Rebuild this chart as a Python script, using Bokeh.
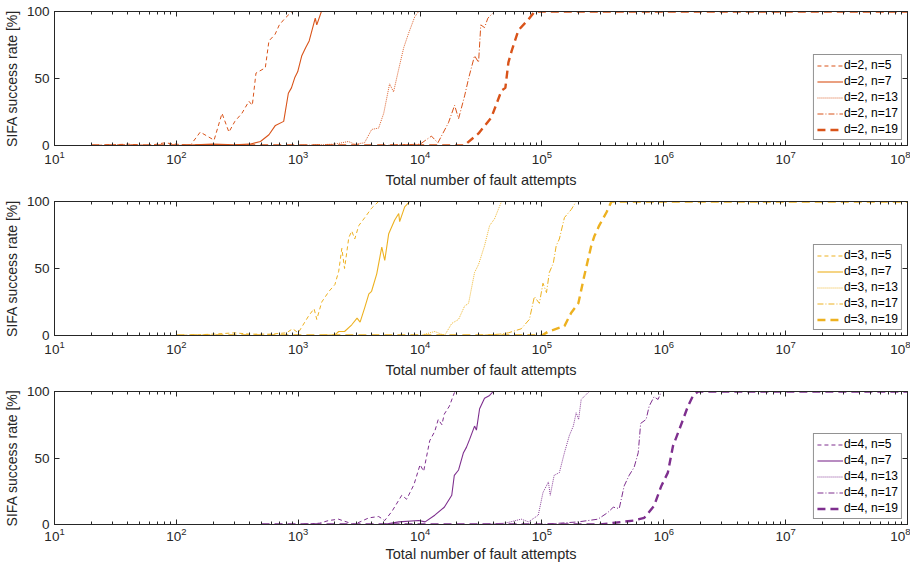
from bokeh.plotting import figure
from bokeh.models import LogAxis, LinearAxis, Legend, LegendItem, FixedTicker, LogTickFormatter, CustomJSTickFormatter
from bokeh.layouts import column
from bokeh.embed import file_html
from bokeh.resources import INLINE

# ---------------- data ----------------
decade_ticks = [1e1, 1e2, 1e3, 1e4, 1e5, 1e6, 1e7, 1e8]
y_ticks = [0, 50, 100]
series_n = [5, 7, 13, 17, 19]
panel_d = [2, 3, 4]

# d = 2
x_d2_n5 = [20, 40, 60, 80, 100, 130, 157, 204, 237, 270, 302, 345, 394, 420, 450, 537, 575, 646, 700, 780, 890, 1e8]
y_d2_n5 = [0, 1, 0, 2, 1, 0, 10, 4, 24, 10, 18, 24, 33, 30, 54, 58, 78, 83, 90, 95, 100, 100]
x_d2_n7 = [20, 100, 200, 300, 400, 490, 575, 650, 760, 830, 880, 940, 990, 1070, 1150, 1230, 1380, 1420, 1550, 1e8]
y_d2_n7 = [0, 0, 1, 0.5, 1, 3, 8, 15, 18, 39, 43, 51, 55, 67, 73, 78, 95, 90, 100, 100]
x_d2_n13 = [20, 1000, 2000, 2580, 2900, 3500, 4010, 4570, 5030, 5620, 6060, 6680, 7340, 8070, 9040, 9730, 1e8]
y_d2_n13 = [0, 0, 1, 3, 1, 2, 12, 13, 24, 46, 40, 57, 73, 84, 96, 100, 100]
x_d2_n17 = [20, 5000, 10000, 12400, 14000, 17100, 19200, 20700, 23200, 25000, 28000, 30200, 31500, 33800, 36000, 40800, 1e8]
y_d2_n17 = [0, 0, 1, 7, 2, 17, 30, 20, 37, 50, 67, 62, 90, 88, 95, 100, 100]
x_d2_n19 = [20, 20000, 23000, 30200, 38500, 46600, 50100, 53100, 56200, 64100, 77400, 87100, 1e8]
y_d2_n19 = [0, 0, 0, 9, 21, 41, 43, 62, 70, 86, 94, 100, 100]

# d = 3
x_d3_n5 = [100, 200, 300, 400, 600, 800, 900, 1000, 1225, 1350, 1420, 1560, 1790, 2000, 2150, 2280, 2400, 2600, 2750, 2910, 3140, 3520, 4000, 4570, 1e8]
y_d3_n5 = [0, 1, 2, 1, 1, 2, 5, 2, 15, 20, 12, 25, 33, 38, 48, 65, 50, 73, 78, 72, 82, 88, 95, 100, 100]
x_d3_n7 = [100, 1500, 2000, 2150, 2400, 2750, 3040, 3220, 3520, 3800, 4000, 4410, 4850, 5130, 5530, 6180, 6680, 6800, 7480, 8220, 1e8]
y_d3_n7 = [0, 0, 0.5, 3, 3, 8, 13, 10, 21, 31, 33, 46, 66, 56, 76, 86, 91, 85, 96, 100, 100]
x_d3_n13 = [100, 5000, 10000, 13200, 15900, 18200, 20700, 23200, 25000, 28000, 30200, 33800, 37200, 40800, 46600, 1e8]
y_d3_n13 = [0, 0, 0, 3, 0, 9, 12, 22, 24, 47, 53, 67, 82, 87, 100, 100]
x_d3_n17 = [100, 30000, 45000, 53100, 67600, 78900, 86700, 95300, 102000, 109000, 115000, 124000, 131000, 139000, 153000, 174000, 191000, 1e8]
y_d3_n17 = [0, 0, 1, 2, 5, 12, 29, 24, 39, 32, 47, 54, 67, 72, 88, 94, 100, 100]
x_d3_n19 = [100, 100000, 113000, 153000, 174000, 199000, 222000, 254000, 269000, 295000, 339000, 372000, 1e8]
y_d3_n19 = [0, 0, 3, 7, 17, 24, 44, 67, 74, 82, 92, 100, 100]

# d = 4
x_d4_n5 = [500, 1000, 1500, 1780, 2140, 2880, 3800, 4570, 5130, 5890, 7080, 7760, 8910, 10000, 10700, 12000, 13200, 14100, 15100, 15800, 17400, 19100, 20400, 1e8]
y_d4_n5 = [0, 0, 1, 3, 4, 0, 5, 6, 3, 10, 22, 19, 30, 45, 40, 63, 70, 79, 75, 83, 89, 99, 100, 100]
x_d4_n7 = [500, 5000, 6680, 9770, 11000, 13200, 15800, 18200, 19100, 20700, 22700, 24000, 25500, 28000, 29000, 30800, 33800, 37200, 39800, 1e8]
y_d4_n7 = [0, 0, 2, 3, 2, 7, 13, 22, 37, 41, 54, 58, 64, 74, 71, 87, 95, 97, 100, 100]
x_d4_n13 = [500, 30000, 50000, 67600, 77600, 93300, 102000, 113000, 117000, 126000, 139000, 153000, 168000, 181000, 191000, 200000, 210000, 244000, 1e8]
y_d4_n13 = [0, 0, 1, 4, 2, 7, 24, 32, 22, 37, 39, 54, 67, 74, 84, 79, 94, 100, 100]
x_d4_n17 = [500, 100000, 200000, 288000, 347000, 385000, 431000, 473000, 520000, 571000, 617000, 646000, 716000, 759000, 832000, 897000, 955000, 1e8]
y_d4_n17 = [0, 0, 2, 4, 9, 13, 12, 29, 37, 43, 54, 76, 79, 89, 96, 94, 100, 100]
x_d4_n19 = [500, 300000, 571000, 692000, 832000, 955000, 1080000, 1190000, 1310000, 1440000, 1580000, 1740000, 1910000, 1e8]
y_d4_n19 = [0, 0, 3, 5, 14, 29, 39, 59, 69, 79, 89, 97, 100, 100]

data = {
    2: [(x_d2_n5, y_d2_n5), (x_d2_n7, y_d2_n7), (x_d2_n13, y_d2_n13), (x_d2_n17, y_d2_n17), (x_d2_n19, y_d2_n19)],
    3: [(x_d3_n5, y_d3_n5), (x_d3_n7, y_d3_n7), (x_d3_n13, y_d3_n13), (x_d3_n17, y_d3_n17), (x_d3_n19, y_d3_n19)],
    4: [(x_d4_n5, y_d4_n5), (x_d4_n7, y_d4_n7), (x_d4_n13, y_d4_n13), (x_d4_n17, y_d4_n17), (x_d4_n19, y_d4_n19)],
}

# ---------------- style ----------------
FONT = "Liberation Sans"
AX = "#262626"
colors = {2: "#D95319", 3: "#EDB120", 4: "#7E2F8E"}
styles = [  # (dash, width, alpha)
    ("4 3", 1.0, 1.0),
    ("solid", 1.1, 1.0),
    ("1 1", 1.0, 0.9),
    ("6 2 1 2", 1.0, 1.0),
    ("8 5", 2.4, 1.0),
]
minor = [m * 10 ** k for k in range(1, 8) for m in range(2, 10)]


def style_axis(ax):
    ax.axis_line_color = AX
    ax.major_tick_line_color = AX
    ax.minor_tick_line_color = AX
    ax.major_tick_in = 5
    ax.major_tick_out = 0
    ax.minor_tick_in = 3
    ax.minor_tick_out = 0
    ax.major_label_text_font = FONT
    ax.major_label_text_color = AX
    ax.major_label_text_font_size = "13.5px"
    ax.axis_label_text_font = FONT
    ax.axis_label_text_font_style = "normal"
    ax.axis_label_text_color = AX
    ax.axis_label_text_font_size = "14.5px"


def hide_labels(ax):
    ax.formatter = CustomJSTickFormatter(code="return '';")
    ax.major_label_text_font_size = "1px"
    ax.major_label_text_alpha = 0
    ax.major_label_standoff = 0


def make_panel(d, height, bottom, lab_standoff, title_standoff):
    p = figure(width=910, height=height, x_axis_type="log", x_range=(10, 1e8), y_range=(0, 100),
               output_backend="svg", toolbar_location=None,
               min_border_left=52, min_border_right=3, min_border_top=11, min_border_bottom=bottom)
    p.grid.visible = False
    p.outline_line_color = AX
    p.background_fill_color = "white"
    p.border_fill_color = "white"

    xa = p.xaxis[0]
    xa.ticker = FixedTicker(ticks=decade_ticks, minor_ticks=minor)
    xa.formatter = LogTickFormatter()
    xa.axis_label = "Total number of fault attempts"
    style_axis(xa)
    xa.major_label_standoff = lab_standoff
    xa.axis_label_standoff = title_standoff

    ya = p.yaxis[0]
    ya.ticker = FixedTicker(ticks=y_ticks)
    ya.axis_label = "SIFA success rate [%]"
    style_axis(ya)
    ya.axis_label_text_font_size = "14px"
    ya.major_label_standoff = 5
    ya.axis_label_standoff = 4
    ya.minor_tick_in = 0

    top = LogAxis(ticker=FixedTicker(ticks=decade_ticks, minor_ticks=minor))
    style_axis(top)
    hide_labels(top)
    p.add_layout(top, "above")
    right = LinearAxis(ticker=FixedTicker(ticks=y_ticks))
    style_axis(right)
    hide_labels(right)
    right.minor_tick_in = 0
    p.add_layout(right, "right")

    items = []
    for n, (xs, ys), (dash, w, a) in zip(series_n, data[d], styles):
        r = p.line(xs, ys, line_color=colors[d], line_width=w, line_dash=dash, line_alpha=a)
        items.append(LegendItem(label="d=%d, n=%d" % (d, n), renderers=[r]))
    leg = Legend(items=items, location="bottom_right")
    leg.label_text_font = FONT
    leg.label_text_font_size = "12px"
    leg.label_text_color = "#000000"
    leg.label_height = 13
    leg.label_standoff = 1
    leg.glyph_width = 26
    leg.glyph_height = 13
    leg.spacing = 2
    leg.padding = 3
    leg.margin = 5
    leg.border_line_color = AX
    leg.border_line_width = 1
    leg.background_fill_color = "white"
    p.add_layout(leg)
    return p


p1 = make_panel(2, 190, 45, 5, 5)
p2 = make_panel(3, 190, 45, 5, 5)
p3 = make_panel(4, 184, 40, 3, 2)
layout = column(p1, p2, p3, spacing=0)

open("out.html", "w").write(file_html(layout, INLINE))
